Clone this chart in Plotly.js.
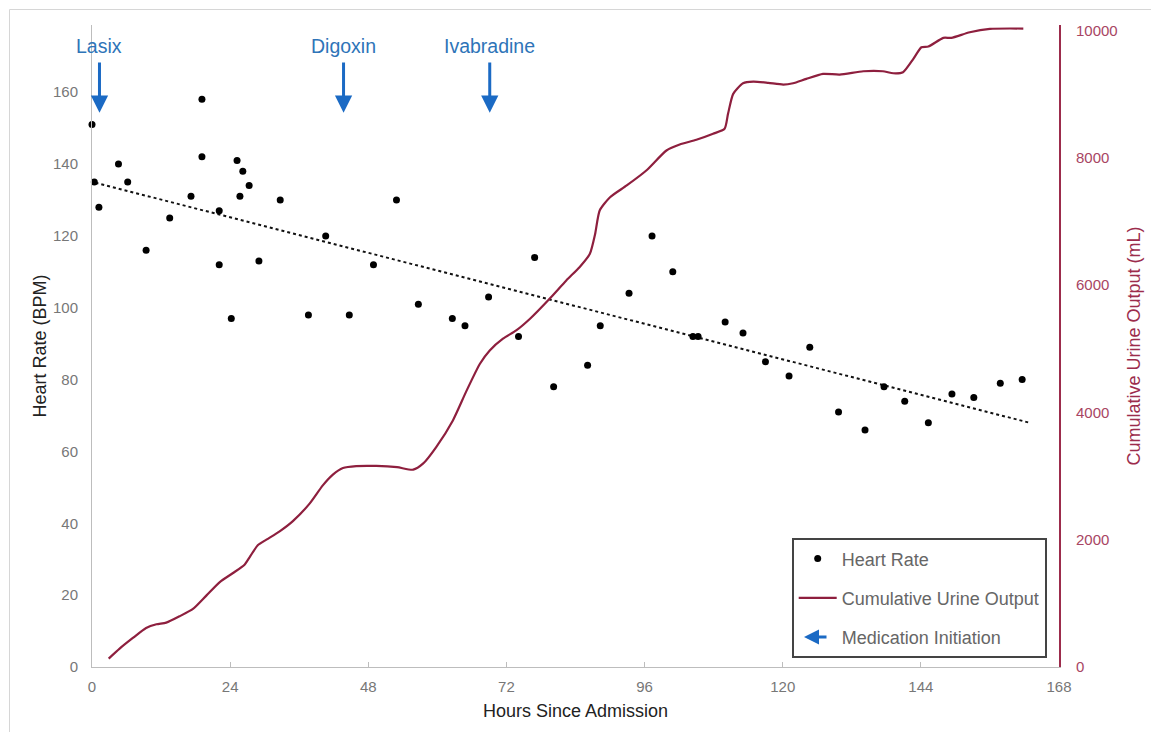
<!DOCTYPE html>
<html>
<head>
<meta charset="utf-8">
<script src="https://cdn.plot.ly/plotly-3.0.1.min.js"></script>
<style>
html,body{margin:0;padding:0;background:#fff;}
#chart{width:1151px;height:732px;}
</style>
</head>
<body>
<div id="chart"></div>
<script>
// Heart rate observations
var hr_hours = [0,0.4,1.2,4.6,6.2,9.4,13.5,17.2,19.1,19.1,22.1,22.1,24.2,25.2,25.7,26.2,27.3,29.0,32.7,37.6,40.6,44.7,48.9,52.9,56.7,62.6,64.8,68.9,74.1,76.9,80.2,86.1,88.3,93.3,97.3,100.9,104.4,105.3,110.0,113.1,117.0,121.1,124.7,129.7,134.3,137.6,141.2,145.3,149.4,153.2,157.8,161.6];
var hr_bpm = [151,135,128,140,135,116,125,131,158,142,127,112,97,141,131,138,134,113,130,98,120,98,112,130,101,97,95,103,92,114,78,84,95,104,120,110,92,92,96,93,85,81,89,71,66,78,74,68,76,75,79,80];

// Linear trend line end points
var trend_hours = [0.6, 163.1];
var trend_bpm = [134.8, 67.9];

// Cumulative urine output
var uo_hours = [2.9,4.8,7.1,9.4,11.2,12.9,15.2,17.6,19.9,22.2,24.5,26.5,27.4,28.8,30.3,32.6,34.9,37.8,40.1,41.9,43.6,45.9,49.4,53.0,55.8,57.5,59.8,62.7,65.1,67.4,69.1,71.4,73.7,76.1,79.5,82.4,84.7,86.5,87.4,88.2,90.0,92.9,96.3,99.8,102.1,105.0,107.9,109.9,110.5,111.4,113.1,114.9,117.5,120.1,121.8,124.1,127.0,129.9,134.0,137.4,139.2,140.9,142.7,144.1,145.3,147.9,149.3,152.5,156.0,161.8];
var uo_ml = [132,289,456,613,671,697,796,917,1126,1335,1477,1608,1728,1912,2001,2132,2293,2567,2854,3027,3126,3157,3160,3140,3101,3195,3456,3875,4347,4766,4975,5159,5289,5473,5787,6075,6283,6494,6800,7174,7383,7567,7802,8117,8211,8285,8379,8458,8693,9007,9174,9200,9180,9153,9174,9243,9321,9310,9362,9362,9331,9347,9557,9739,9750,9887,9887,9975,10028,10033];

// Medication initiation
var med_names = ["Lasix", "Digoxin", "Ivabradine"];
var med_hours = [1.3, 43.7, 69.1];

// Tick values
var x_ticks = [0,24,48,72,96,120,144,168];
var y_ticks = [0,20,40,60,80,100,120,140,160];
var y2_ticks = [0,2000,4000,6000,8000,10000];

var BLUE = '#1b6ac4';
var LABEL_BLUE = '#2e74b8';
var CRIMSON = '#9c2c4c';
var FONT = 'Liberation Sans, Arial, sans-serif';

var traces = [
  {
    x: uo_hours, y: uo_ml, yaxis: 'y2', type: 'scatter', mode: 'lines',
    name: 'Cumulative Urine Output', legendgroup: 'b', legendrank: 2,
    line: {color: '#8e1f3e', width: 2.2, shape: 'spline', smoothing: 0.6},
    hoverinfo: 'skip'
  },
  {
    x: trend_hours, y: trend_bpm, type: 'scatter', mode: 'lines',
    showlegend: false, line: {color: '#111', width: 2, dash: 'dot'}, hoverinfo: 'skip'
  },
  {
    x: hr_hours, y: hr_bpm, type: 'scatter', mode: 'markers',
    name: 'Heart Rate', legendgroup: 'a', legendrank: 1, cliponaxis: false,
    marker: {color: '#000', size: 7}
  },
  {
    x: [null], y: [null], type: 'scatter', mode: 'markers',
    name: 'Medication Initiation', legendgroup: 'c', legendrank: 3,
    marker: {color: 'rgba(0,0,0,0)', size: 1}
  }
];

var annotations = [];
for (var i = 0; i < med_names.length; i++) {
  annotations.push({
    x: med_hours[i], y: 154.3, xref: 'x', yref: 'y',
    ax: med_hours[i], ay: 168.7, axref: 'x', ayref: 'y',
    showarrow: true, arrowhead: 2, arrowsize: 1.15, arrowwidth: 3,
    arrowcolor: BLUE, text: ''
  });
  annotations.push({
    x: med_hours[i], y: 172.9, xref: 'x', yref: 'y',
    text: med_names[i], showarrow: false,
    font: {family: FONT, size: 19.5, color: LABEL_BLUE},
    xanchor: 'center', yanchor: 'middle'
  });
}
// legend arrow glyph for "Medication Initiation"
annotations.push({
  x: (804 - 92) / 967, y: (667 - 637) / 642, xref: 'paper', yref: 'paper',
  ax: 24, ay: 0, showarrow: true, arrowhead: 2, arrowsize: 1, arrowwidth: 3,
  arrowcolor: BLUE, text: ''
});

var layout = {
  width: 1151, height: 732,
  margin: {l: 92, r: 92, t: 25, b: 65},
  paper_bgcolor: '#fff', plot_bgcolor: '#fff',
  font: {family: FONT},
  showlegend: true,
  legend: {
    x: (791.7 - 92) / 967, y: (667 - 538.3) / 642, xanchor: 'left', yanchor: 'top',
    bgcolor: 'rgba(255,255,255,0)', bordercolor: '#444', borderwidth: 2,
    font: {family: FONT, size: 18, color: '#666'},
    itemwidth: 38,
    traceorder: 'grouped', tracegroupgap: 13
  },
  xaxis: {
    range: [0, 168], tickvals: x_ticks, ticktext: x_ticks.map(String),
    showgrid: false, zeroline: false, showline: true, linecolor: '#bdbdbd', linewidth: 1,
    ticks: 'inside', ticklen: 5, tickcolor: '#bdbdbd', ticklabelstandoff: 6,
    tickfont: {family: FONT, size: 15, color: '#777'},
    title: {text: 'Hours Since Admission', font: {family: FONT, size: 18, color: '#222'}, standoff: 10}
  },
  yaxis: {
    range: [0, 178.7], tickvals: y_ticks, ticktext: y_ticks.map(String),
    showgrid: false, zeroline: false, showline: true, linecolor: '#bdbdbd', linewidth: 1,
    ticks: '', ticklabelstandoff: 10,
    tickfont: {family: FONT, size: 15, color: '#777'},
    title: {text: 'Heart Rate (BPM)', font: {family: FONT, size: 18, color: '#222'}, standoff: 1}
  },
  yaxis2: {
    overlaying: 'y', side: 'right', range: [0, 10089],
    tickvals: y2_ticks, ticktext: y2_ticks.map(String),
    showgrid: false, zeroline: false, showline: true, linecolor: CRIMSON, linewidth: 2,
    ticks: '', ticklabelstandoff: 12,
    tickfont: {family: FONT, size: 15, color: '#a84563'},
    title: {text: 'Cumulative Urine Output (mL)', font: {family: FONT, size: 18, color: CRIMSON}, standoff: 11}
  },
  annotations: annotations,
  shapes: [
    {type: 'line', xref: 'paper', yref: 'paper', x0: (9.5 - 92) / 967, x1: (9.5 - 92) / 967,
     y0: (667 - 9.5) / 642, y1: (667 - 740) / 642, line: {color: '#d6d6d6', width: 1}},
    {type: 'line', xref: 'paper', yref: 'paper', x0: (9.5 - 92) / 967, x1: (1160 - 92) / 967,
     y0: (667 - 9.5) / 642, y1: (667 - 9.5) / 642, line: {color: '#d6d6d6', width: 1}}
  ]
};

Plotly.newPlot('chart', traces, layout, {displayModeBar: false, staticPlot: true});
</script>
</body>
</html>
